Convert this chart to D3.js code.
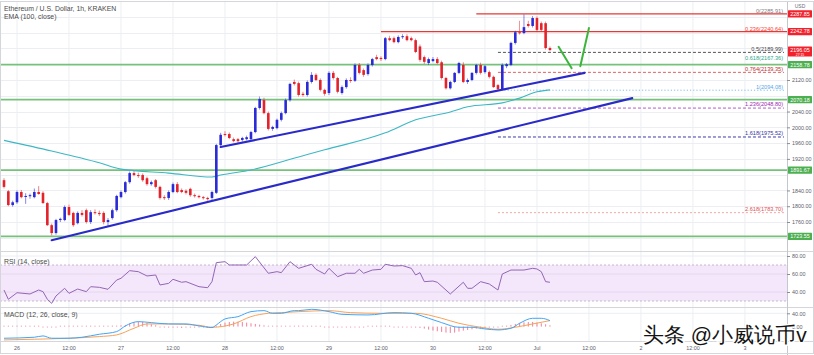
<!DOCTYPE html>
<html><head><meta charset="utf-8">
<script src="https://cdn.jsdelivr.net/npm/d3@7"></script>
<style>body{margin:0;background:#fff;}svg{display:block;}text{font-family:"Liberation Sans",Arial,sans-serif;}</style>
</head><body><svg id="c" width="814" height="355"></svg>
<script>
// ---------- DATA ----------
const startTime = "2021-06-25T21:00:00Z"; // first hourly candle
// [open, high, low, close]
const candles = [
[1866,1871,1845,1849],[1838,1841,1800,1803],[1803,1814,1799,1810],[1810,1840,1806,1836],[1836,1841,1820,1823],
[1824,1833,1806,1826],[1826,1832,1819,1828],[1823,1845,1820,1836],[1836,1851,1829,1831],[1834,1838,1806,1808],
[1808,1811,1750,1752],[1752,1756,1726,1732],[1732,1768,1728,1765],[1765,1771,1760,1768],[1765,1802,1762,1798],
[1798,1804,1775,1778],[1783,1786,1748,1752],[1757,1787,1754,1783],[1783,1790,1774,1778],[1790,1794,1756,1760],
[1760,1790,1755,1785],[1785,1792,1779,1783],[1783,1789,1775,1780],[1783,1787,1754,1760],[1760,1770,1750,1765],
[1770,1794,1766,1790],[1790,1829,1786,1826],[1823,1840,1820,1836],[1836,1864,1832,1861],[1861,1888,1857,1884],
[1884,1889,1876,1879],[1879,1885,1872,1877],[1879,1883,1862,1866],[1871,1875,1852,1856],[1856,1865,1852,1861],
[1866,1869,1845,1849],[1849,1852,1817,1821],[1823,1828,1816,1821],[1821,1840,1816,1836],[1836,1860,1833,1856],
[1856,1861,1833,1836],[1841,1845,1833,1836],[1839,1843,1830,1834],[1844,1847,1824,1828],[1828,1832,1822,1826],
[1826,1829,1820,1823],[1823,1826,1817,1821],[1821,1824,1814,1818],[1821,1839,1814,1836],[1834,1958,1831,1955],
[1955,1986,1952,1981],[1983,1990,1977,1981],[1983,1987,1970,1973],[1970,1974,1962,1965],[1970,1973,1961,1965],
[1968,1976,1964,1973],[1970,1979,1967,1975],[1970,1991,1966,1988],[1988,2052,1985,2049],[2049,2078,2045,2072],
[2069,2075,2033,2036],[2036,2040,1992,1996],[1996,2004,1991,2001],[1998,2022,1995,2019],[2019,2040,2015,2036],
[2036,2073,2033,2069],[2069,2113,2065,2110],[2115,2121,2106,2110],[2112,2116,2078,2082],[2085,2090,2078,2082],
[2082,2119,2078,2115],[2115,2140,2111,2133],[2133,2137,2117,2120],[2120,2124,2091,2095],[2095,2098,2080,2085],
[2087,2142,2082,2138],[2138,2143,2121,2125],[2125,2128,2086,2090],[2087,2106,2083,2102],[2102,2124,2098,2120],
[2120,2127,2113,2118],[2118,2162,2115,2158],[2158,2163,2134,2138],[2145,2149,2128,2133],[2135,2162,2131,2158],
[2158,2176,2154,2173],[2178,2184,2170,2173],[2176,2180,2168,2173],[2173,2229,2170,2226],[2226,2232,2218,2221],
[2226,2230,2213,2216],[2216,2233,2213,2229],[2229,2236,2224,2231],[2231,2236,2218,2221],[2226,2230,2218,2221],
[2221,2225,2188,2191],[2205,2210,2166,2171],[2178,2182,2161,2166],[2163,2177,2158,2173],[2168,2178,2165,2173],
[2173,2178,2160,2163],[2165,2169,2121,2125],[2125,2128,2096,2099],[2099,2118,2096,2115],[2115,2140,2112,2138],
[2138,2166,2135,2163],[2158,2165,2112,2115],[2115,2124,2110,2120],[2120,2140,2117,2138],[2138,2161,2134,2158],
[2158,2164,2134,2138],[2140,2158,2136,2155],[2140,2144,2124,2128],[2128,2131,2100,2102],[2107,2110,2094,2097],
[2097,2162,2095,2158],[2155,2163,2150,2160],[2158,2217,2155,2214],[2214,2245,2210,2241],[2241,2270,2235,2239],
[2239,2286,2236,2254],[2262,2270,2253,2257],[2257,2282,2253,2277],[2277,2281,2243,2247],[2264,2268,2243,2247],
[2264,2268,2197,2201],[2201,2205,2193,2196]
];
// EMA(100) read at candle indices
const emaIdx = [0,11,22,27,38,48,50,57,68,74,88,95,103,107,115,119,123,126];
const emaVal = [1967,1940,1910,1894,1884,1874,1879,1892,1925,1943,1986,2019,2039,2052,2062,2074,2090,2095];
// RSI(14)
const rsiIdx = [0,1,3,6,8,9,10,11,12,14,15,17,19,20,22,24,26,27,29,31,33,35,36,38,39,41,42,45,47,48,49,51,52,56,58,61,63,64,66,68,71,72,74,75,77,79,81,82,83,85,87,88,90,92,94,95,96,97,99,100,103,106,107,108,110,112,114,115,117,120,122,123,124,125,126];
const rsiVal = [42.2,31.9,39.2,37.8,42.2,40.4,31.9,27.4,35.6,44.1,38.5,43.3,40.4,45.9,45.2,43,53.3,55.2,63.7,62.6,57.8,58.9,47.8,49.6,54.1,50.8,51.5,45.9,44.8,51.5,72.6,73.7,70,70,79.3,60.8,62.6,61.5,73.7,66.3,70.8,65.2,60,66.3,57,60.8,60.8,65.2,60.8,64.4,65.2,70.8,68.9,69.3,66.3,58.9,61.5,51.5,52.2,50.8,37.8,50.8,44.1,44.1,51.5,48.9,42.2,60,64.4,64.4,66.3,65.6,62.6,51.5,50.8];
// MACD(12,26,9)
const macdIdx = [0,7,9,11,15,18,22,26,28,31,34,38,42,45,48,49,51,54,57,60,62,64,67,68,71,75,78,84,90,94,98,101,105,108,111,114,117,119,122,124,126];
const macdVal = [-35,-32,-28,-35,-35,-32,-23,-15,2,15,12,8,8,2,-3,5,23,30,45,48,40,40,48,48,52,45,37,35,42,40,25,12,-2,-2,-7,-10,-5,10,25,25,18];
const sigIdx = [0,7,15,22,26,30,33,38,45,48,53,57,61,64,68,75,80,87,95,101,105,110,114,118,122,126];
const sigVal = [-40,-38,-35,-30,-25,-5,8,8,4,-2,8,30,40,42,45,48,42,40,40,25,10,-2,-8,-2,8,18];
const histVal = [1,1,2,1,1,0,1,2,1,-1,-2,-2,-1,0,1,1,0,1,1,1,1,2,2,2,2,3,3,4,
 5,9,13,15,14,11,7,4,
 -1,-2,-3,-3,-3,-4,-3,-3,-3,-2,-2,-3,-2,
 3,8,12,14,15,15,14,12,10,8,6,4,
 2,1,0,1,2,2,2,3,3,2,2,1,
 0,-1,-1,-2,-2,-1,-1,-2,-2,-1,-1,0,0,1,1,0,0,-1,-1,-1,-2,-2,-3,-4,
 -6,-9,-12,-14,-16,-18,-19,-18,-15,-12,-10,-8,-6,-5,-4,-3,-2,-1,1,
 3,5,8,11,13,14,14,12,10,7,4];
// axes
const priceTicks = [1720,1760,1800,1840,1880,1920,1960,2000,2040,2080,2120,2160,2200,2240,2280];
const rsiTicks = [40,60,80];
const macdTicks = [0,40];
const timeTicks = ["2021-06-26T00:00Z","2021-06-26T12:00Z","2021-06-27T00:00Z","2021-06-27T12:00Z","2021-06-28T00:00Z","2021-06-28T12:00Z","2021-06-29T00:00Z","2021-06-29T12:00Z","2021-06-30T00:00Z","2021-06-30T12:00Z","2021-07-01T00:00Z","2021-07-01T12:00Z","2021-07-02T00:00Z","2021-07-02T12:00Z","2021-07-03T00:00Z"];
const timeLabels = ["26","12:00","27","12:00","28","12:00","29","12:00","30","12:00","Jul","12:00","2","12:00","3"];
// drawings
const greenLevels = [2158.78, 2070.18, 1891.67, 1723.55];
const redLevels = [2287.85, 2242.78];
const redFrom = ["2021-06-30T10:00Z","2021-06-29T12:00Z"];
const fibFrom = "2021-06-30T15:00Z";
const fibRatio = ["0","0.236","0.5","0.618","0.764","1","1.236","1.618","2.618"];
const fibPrice = [2285.91,2240.64,2189.99,2167.36,2139.35,2094.08,2048.80,1975.52,1783.70];
const trendLines = [
  [["2021-06-26T08:00Z",1714],["2021-07-01T22:00Z",2074]],
  [["2021-06-27T23:00Z",1950],["2021-07-01T11:00Z",2138]]
];
const vLegs = [
  [["2021-07-01T05:00Z",2204],["2021-07-01T08:00Z",2150]],
  [["2021-07-01T10:00Z",2155],["2021-07-01T12:00Z",2252]]
];
const lastPrice = 2196.05, countdown = "27:15";

// ---------- LAYOUT ----------
const svg = d3.select("#c");
const W = 814, R = 787;
const mainT = 2, mainB = 251, rsiB = 307, macdB = 341;
const H = 3600e3;
const t26 = Date.UTC(2021,5,26);
const pxPerHour = 4.333;
const x = d3.scaleUtc()
  .domain([new Date(t26 - 17/pxPerHour*H), new Date(t26 + (R-17)/pxPerHour*H)])
  .range([0, R]);
const y = d3.scaleLinear().domain([1686.5, 2317.7]).range([mainB, mainT]);
const yR = d3.scaleLinear().domain([40, 80]).range([292, 256]);
const yM = d3.scaleLinear().domain([0, 40]).range([326.6, 313.3]);
const t0 = Date.parse(startTime);
const tx = i => x(new Date(t0 + i*H));
const pd = s => new Date(s);

const defs = svg.append("defs");
[["cm",mainT,mainB],["cr",mainB,rsiB],["cd",rsiB,macdB]].forEach(([id,a,b])=>{
  defs.append("clipPath").attr("id",id).append("rect").attr("x",0).attr("y",a).attr("width",R).attr("height",b-a);
});

const grid = "#eceef3";
svg.append("g").selectAll("line").data(timeTicks).join("line")
  .attr("x1",d=>x(pd(d))).attr("x2",d=>x(pd(d))).attr("y1",mainT).attr("y2",macdB)
  .attr("stroke",grid).attr("stroke-width",1);
svg.append("g").attr("clip-path","url(#cm)").selectAll("line").data(priceTicks).join("line")
  .attr("x1",0).attr("x2",R).attr("y1",d=>Math.round(y(d))+0.5).attr("y2",d=>Math.round(y(d))+0.5)
  .attr("stroke",grid);
svg.append("g").selectAll("line").data(rsiTicks).join("line")
  .attr("x1",0).attr("x2",R).attr("y1",d=>yR(d)).attr("y2",d=>yR(d)).attr("stroke",grid);
svg.append("g").selectAll("line").data(macdTicks.slice(1)).join("line")
  .attr("x1",0).attr("x2",R).attr("y1",d=>yM(d)).attr("y2",d=>yM(d)).attr("stroke",grid);

// ---------- MAIN PANEL ----------
const gm = svg.append("g").attr("clip-path","url(#cm)");
gm.selectAll(".gl").data(greenLevels).join("line")
  .attr("x1",0).attr("x2",R).attr("y1",d=>y(d)).attr("y2",d=>y(d))
  .attr("stroke","#76c27a").attr("stroke-width",1.8);
gm.selectAll(".rl").data(redLevels).join("line")
  .attr("x1",(d,i)=>x(pd(redFrom[i]))).attr("x2",R).attr("y1",d=>y(d)).attr("y2",d=>y(d))
  .attr("stroke","#e53935").attr("stroke-width",1.2);
const fibStyle = {
  "0":{c:"#787b86",t:"#787b86",dash:null,show:false},
  "0.236":{c:"#f44336",t:"#f44336",dash:null,show:false},
  "0.5":{c:"#555",t:"#444",dash:"3,2",show:true},
  "0.618":{c:"#2fa88c",t:"#2fa88c",dash:null,show:false},
  "0.764":{c:"#e06060",t:"#b83030",dash:"3,2",show:true},
  "1":{c:"#7fbef0",t:"#5aa8e8",dash:"1.2,2",show:true},
  "1.236":{c:"#b05cc4",t:"#9c27b0",dash:"3,2",show:true},
  "1.618":{c:"#3a3aa8",t:"#3535a8",dash:"3,2",show:true},
  "2.618":{c:"#f3a6a6",t:"#e05050",dash:"2,2",show:true}
};
fibRatio.forEach((r,i)=>{
  const s = fibStyle[r], yy = y(fibPrice[i]);
  if (s.show) gm.append("line").attr("x1",x(pd(fibFrom))).attr("x2",R-3).attr("y1",yy).attr("y2",yy)
    .attr("stroke",s.c).attr("stroke-width",1).attr("stroke-dasharray",s.dash);
  svg.append("text").attr("x",783).attr("y",yy-1.6).attr("text-anchor","end")
    .attr("font-size",5.6).attr("fill",s.t).text(`${r}(${fibPrice[i].toFixed(2)})`);
});
gm.append("path").datum(emaIdx.map((d,i)=>[d,emaVal[i]]))
  .attr("d",d3.line().x(d=>tx(d[0])).y(d=>y(d[1])).curve(d3.curveMonotoneX))
  .attr("fill","none").attr("stroke","#3db7c4").attr("stroke-width",1.1);
const upC = "#2a2ad6", dnC = "#e3222b";
const cg = gm.append("g");
candles.forEach((c,i)=>{
  const [o,h,l,cl] = c, col = cl>=o?upC:dnC, cx = tx(i);
  cg.append("line").attr("x1",cx).attr("x2",cx).attr("y1",y(h)).attr("y2",y(l)).attr("stroke",col).attr("stroke-width",0.7).attr("opacity",0.8);
  const yt = y(Math.max(o,cl)), yb = y(Math.min(o,cl));
  cg.append("rect").attr("x",cx-1.3).attr("width",2.6).attr("y",yt).attr("height",Math.max(1,yb-yt)).attr("fill",col);
});
trendLines.forEach(tl=>{
  gm.append("line").attr("x1",x(pd(tl[0][0]))).attr("y1",y(tl[0][1])).attr("x2",x(pd(tl[1][0]))).attr("y2",y(tl[1][1]))
    .attr("stroke","#2a2ac8").attr("stroke-width",2.1).attr("stroke-linecap","round");
});
vLegs.forEach(tl=>{
  gm.append("line").attr("x1",x(pd(tl[0][0]))).attr("y1",y(tl[0][1])).attr("x2",x(pd(tl[1][0]))).attr("y2",y(tl[1][1]))
    .attr("stroke","#3cb43c").attr("stroke-width",2).attr("stroke-linecap","round");
});
svg.append("text").attr("x",4).attr("y",10.5).attr("font-size",6.9).attr("fill","#4a4a4a").text("Ethereum / U.S. Dollar, 1h, KRAKEN");
svg.append("text").attr("x",4).attr("y",19).attr("font-size",6.9).attr("fill","#4a4a4a").text("EMA (100, close)");

// ---------- RSI ----------
const gr = svg.append("g").attr("clip-path","url(#cr)");
gr.append("rect").attr("x",0).attr("width",R).attr("y",yR(70)).attr("height",yR(30)-yR(70)).attr("fill","#f4e6fb");
[70,30].forEach(v=>gr.append("line").attr("x1",0).attr("x2",R).attr("y1",yR(v)).attr("y2",yR(v))
  .attr("stroke","#b9aac4").attr("stroke-dasharray","2,2").attr("stroke-width",0.8));
[60,40].forEach(v=>gr.append("line").attr("x1",0).attr("x2",R).attr("y1",yR(v)).attr("y2",yR(v))
  .attr("stroke","#e2d3ea").attr("stroke-width",0.8));
gr.append("path").datum(rsiIdx.map((d,i)=>[d,rsiVal[i]]))
  .attr("d",d3.line().x(d=>tx(d[0])).y(d=>yR(d[1])))
  .attr("fill","none").attr("stroke","#9366b4").attr("stroke-width",1);
svg.append("text").attr("x",4).attr("y",263.5).attr("font-size",6.9).attr("fill","#4a4a4a").text("RSI (14, close)");

// ---------- MACD ----------
const gd = svg.append("g").attr("clip-path","url(#cd)");
histVal.forEach((v,i)=>{
  const y0 = yM(0), y1 = yM(v);
  const hgt = Math.max(0.9, Math.abs(y1-y0));
  gd.append("rect").attr("x",tx(i)-0.5).attr("width",1).attr("y",v>=0?y0-hgt:y0).attr("height",hgt)
    .attr("fill","#ef6a86").attr("opacity",0.85);
});
gd.append("path").datum(sigIdx.map((d,i)=>[d,sigVal[i]]))
  .attr("d",d3.line().x(d=>tx(d[0])).y(d=>yM(d[1])).curve(d3.curveMonotoneX))
  .attr("fill","none").attr("stroke","#f7a25a").attr("stroke-width",1);
gd.append("path").datum(macdIdx.map((d,i)=>[d,macdVal[i]]))
  .attr("d",d3.line().x(d=>tx(d[0])).y(d=>yM(d[1])).curve(d3.curveMonotoneX))
  .attr("fill","none").attr("stroke","#42a5f5").attr("stroke-width",1);
svg.append("text").attr("x",4).attr("y",316.5).attr("font-size",6.9).attr("fill","#4a4a4a").text("MACD (12, 26, close, 9)");

// ---------- FRAME / SEPARATORS ----------
const sep = "#d4d6dc";
[mainB, rsiB, macdB].forEach(v=>svg.append("line").attr("x1",0).attr("x2",W).attr("y1",v+0.5).attr("y2",v+0.5).attr("stroke",sep));
svg.append("line").attr("x1",R+0.5).attr("x2",R+0.5).attr("y1",mainT).attr("y2",355).attr("stroke","#c4c7ce");
svg.append("rect").attr("x",0.5).attr("y",1.5).attr("width",W-1).attr("height",352).attr("fill","none").attr("stroke",sep);

// ---------- AXES ----------
const fmt = d3.format(".2f");
const badgePrices = redLevels.concat([lastPrice], greenLevels);
function styleAxis(g){
  g.select(".domain").remove();
  g.selectAll(".tick line").attr("stroke","#8a8d96");
  g.selectAll(".tick text").attr("font-size",5.4).attr("fill","#5d606b").attr("font-family","Liberation Sans, Arial, sans-serif");
}
const visTicks = priceTicks.filter(d=>y(d)>mainT+4 && y(d)<mainB-2 && badgePrices.every(b=>Math.abs(y(b)-y(d))>6.5));
svg.append("g").attr("transform",`translate(${R},0)`)
  .call(d3.axisRight(y).tickValues(visTicks).tickFormat(fmt).tickSize(3).tickPadding(2)).call(styleAxis);
svg.append("g").attr("transform",`translate(${R},0)`)
  .call(d3.axisRight(yR).tickValues(rsiTicks).tickFormat(fmt).tickSize(3).tickPadding(2)).call(styleAxis);
svg.append("g").attr("transform",`translate(${R},0)`)
  .call(d3.axisRight(yM).tickValues(macdTicks).tickFormat(fmt).tickSize(3).tickPadding(2)).call(styleAxis);
svg.append("g").selectAll("text").data(timeTicks).join("text")
  .attr("x",d=>x(pd(d))).attr("y",350).attr("text-anchor","middle").attr("font-size",5.4).attr("fill","#5d606b")
  .text((d,i)=>timeLabels[i]);
svg.append("text").attr("x",800).attr("y",8).attr("text-anchor","middle").attr("font-size",5).attr("fill","#6a6d78").text("USD");

function badge(price, color, txt, extra){
  const yy = y(price), h = extra?10:7.2;
  svg.append("rect").attr("x",788).attr("y",yy-3.6).attr("width",24).attr("height",h).attr("fill",color).attr("rx",0.5);
  svg.append("text").attr("x",800).attr("y",yy+1.9).attr("text-anchor","middle").attr("font-size",5.4).attr("fill","#fff").text(txt);
  if(extra) svg.append("text").attr("x",800).attr("y",yy+5.6).attr("text-anchor","middle").attr("font-size",3.4).attr("fill","#fff").text(extra);
}
redLevels.forEach(p=>badge(p,"#f2222c",fmt(p)));
badge(lastPrice,"#f2222c",fmt(lastPrice),countdown);
greenLevels.forEach(p=>badge(p,"#4caf50",fmt(p)));

svg.append("text").attr("x",643).attr("y",342).attr("font-size",21)
  .attr("font-family","Noto Sans CJK SC, sans-serif").attr("font-weight",500).attr("fill","#141414")
  .attr("stroke","#fff").attr("stroke-width",2.5).attr("paint-order","stroke")
  .text("头条 @小威说币v");
</script></body></html>
